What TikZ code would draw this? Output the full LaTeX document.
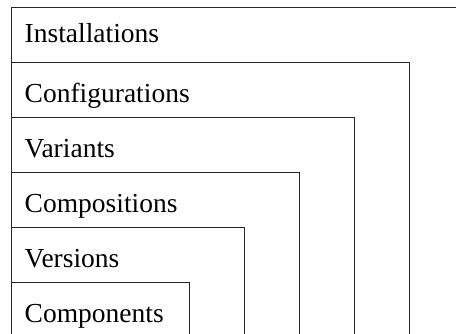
\documentclass[tikz,border=0pt]{standalone}
\usepackage{fontspec}
\setmainfont{Liberation Serif}
\begin{document}
\begin{tikzpicture}[x=1pt,y=1pt,
  layer/.style={draw=black!85,line width=1pt},
  layerlabel/.style={anchor=base west,inner sep=0pt,
    font=\fontsize{27.5}{33}\selectfont}]
\useasboundingbox (0,0) rectangle (456,-333);
\clip (0,0) rectangle (456,-333);
% nested layers, each 55pt lower and narrower than its parent
\foreach \name/\txt/\drop [count=\k from 0] in
  {inst/Installations/35, conf/Configurations/40.5, vari/Variants/40,
   comp/Compositions/40.5, vers/Versions/40, cpnt/Components/40.5}{
  \pgfmathsetmacro{\top}{-7-55*\k}
  \pgfmathsetmacro{\right}{464-55*\k}
  \draw[layer] (11,-345) |- (\right,\top) -- (\right,-345);
  \node[layerlabel] (\name) at (24.5,\top-\drop) {\txt};
}
\end{tikzpicture}
\end{document}
